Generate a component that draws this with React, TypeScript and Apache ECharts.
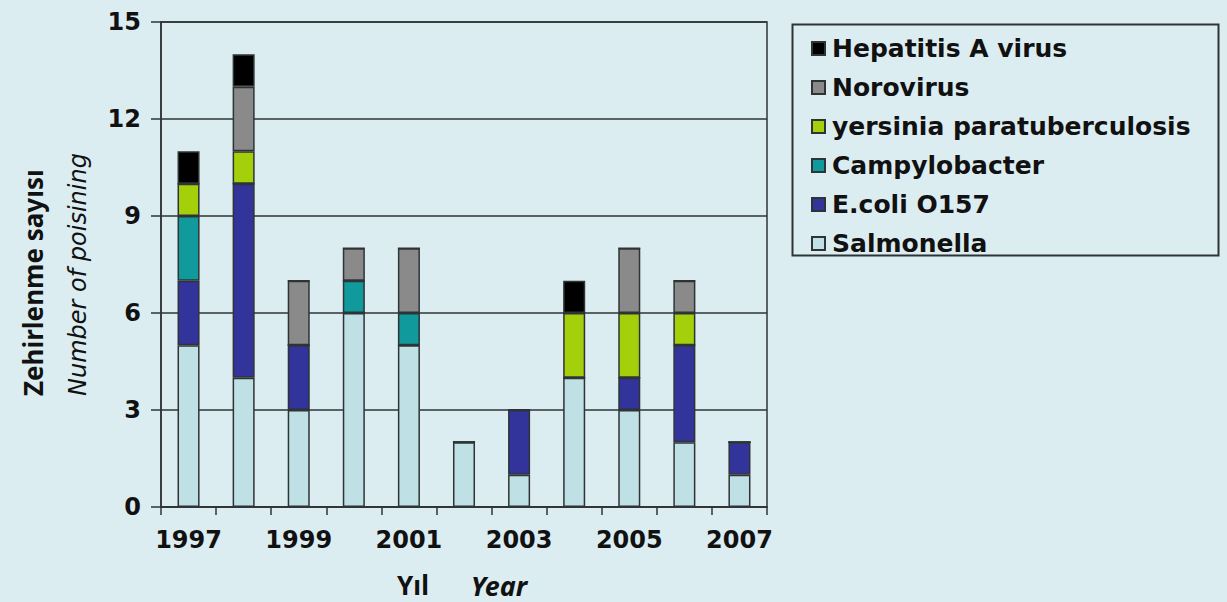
import React, { useEffect, useRef } from "react";
import * as echarts from "echarts";

const years = ["1997", "1998", "1999", "2000", "2001", "2002", "2003", "2004", "2005", "2006", "2007"];
const salmonella = [5, 4, 3, 6, 5, 2, 1, 4, 3, 2, 1];
const ecoli = [2, 6, 2, 0, 0, 0, 2, 0, 1, 3, 1];
const campylobacter = [2, 0, 0, 1, 1, 0, 0, 0, 0, 0, 0];
const yersinia = [1, 1, 0, 0, 0, 0, 0, 2, 2, 1, 0];
const norovirus = [0, 2, 2, 1, 2, 0, 0, 0, 2, 1, 0];
const hepatitisA = [1, 1, 0, 0, 0, 0, 0, 1, 0, 0, 0];

const seriesDefs = [
  { name: "Salmonella", data: salmonella, color: "#bfe0e4" },
  { name: "E.coli O157", data: ecoli, color: "#33339c" },
  { name: "Campylobacter", data: campylobacter, color: "#109a9b" },
  { name: "yersinia paratuberculosis", data: yersinia, color: "#a4cf0b" },
  { name: "Norovirus", data: norovirus, color: "#8a8a8a" },
  { name: "Hepatitis A virus", data: hepatitisA, color: "#000000" },
];

const yTicks = { min: 0, max: 15, interval: 3 };

export default function App() {
  const ref = useRef<HTMLDivElement>(null);
  useEffect(() => {
    if (!ref.current) return;
    const chart = echarts.init(ref.current, null, { renderer: "svg" });
    const dark = "#2e3436";
    chart.setOption({
      animation: false,
      backgroundColor: "#dcedf1",
      grid: {
        left: 161,
        right: 460,
        top: 22,
        bottom: 95,
        show: true,
        borderColor: dark,
        borderWidth: 1.5,
        backgroundColor: "transparent",
      },
      legend: {
        orient: "vertical",
        left: 806,
        top: 31,
        itemWidth: 13,
        itemHeight: 13,
        itemGap: 14,
        icon: "rect",
        data: seriesDefs.map((s) => s.name).reverse(),
        textStyle: {
          fontFamily: "DejaVu Sans",
          fontWeight: "bold",
          fontSize: 25,
          lineHeight: 24,
          color: "#111",
          padding: [0, 0, 0, 2],
        },
      },
      xAxis: {
        type: "category",
        data: years,
        boundaryGap: true,
        axisLine: { lineStyle: { color: dark, width: 1.5 } },
        axisTick: { show: true, interval: 0, length: 8, lineStyle: { color: dark, width: 1.5 } },
        axisLabel: {
          interval: 1,
          margin: 21,
          fontFamily: "DejaVu Sans",
          fontWeight: "bold",
          fontSize: 24,
          color: "#111",
        },
      },
      yAxis: {
        type: "value",
        min: yTicks.min,
        max: yTicks.max,
        interval: yTicks.interval,
        axisLine: { show: true, lineStyle: { color: dark, width: 1.5 } },
        axisTick: { show: true, length: 10, lineStyle: { color: dark, width: 1.5 } },
        splitLine: { show: true, lineStyle: { color: dark, width: 1.5 } },
        axisLabel: {
          margin: 20,
          fontFamily: "DejaVu Sans",
          fontWeight: "bold",
          fontSize: 24,
          color: "#111",
        },
      },
      series: seriesDefs.map((s) => ({
        name: s.name,
        type: "bar",
        stack: "total",
        barWidth: "40%",
        data: s.data,
        itemStyle: { color: s.color, borderColor: dark, borderWidth: 1.5 },
      })),
      graphic: [
        {
          type: "rect",
          left: 790,
          top: 22,
          shape: { x: 0, y: 0, width: 426, height: 231 },
          style: { fill: "none", stroke: dark, lineWidth: 2 },
          z: 10,
        },
        {
          type: "text",
          x: 33,
          y: 396,
          rotation: Math.PI / 2,
          style: {
            text: "Zehirlenme sayısı",
            font: "bold 26px 'Noto Sans'",
            fill: "#111",
            align: "left",
            verticalAlign: "middle",
          },
        },
        {
          type: "text",
          x: 78,
          y: 396,
          rotation: Math.PI / 2,
          style: {
            text: "Number of poisining",
            font: "italic 24px 'DejaVu Sans'",
            fill: "#111",
            align: "left",
            verticalAlign: "middle",
          },
        },
        {
          type: "text",
          x: 413,
          y: 585,
          style: {
            text: "Yıl",
            font: "bold 26px 'Noto Sans'",
            fill: "#111",
            align: "center",
            verticalAlign: "middle",
          },
        },
        {
          type: "text",
          x: 499,
          y: 585,
          style: {
            text: "Year",
            font: "italic bold 27px 'Noto Sans'",
            fill: "#111",
            align: "center",
            verticalAlign: "middle",
          },
        },
      ],
    });
    return () => chart.dispose();
  }, []);
  return (
    <div
      ref={ref}
      style={{ position: "fixed", left: 0, top: 0, width: 1227, height: 602 }}
    />
  );
}
